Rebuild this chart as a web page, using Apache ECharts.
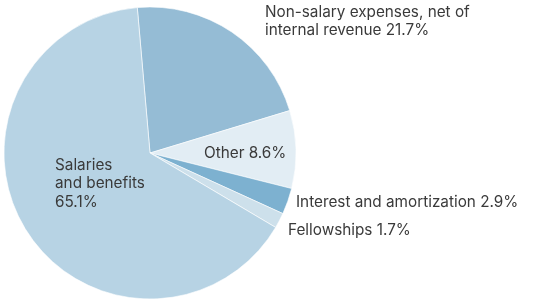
<!DOCTYPE html>
<html lang="en">
<head>
    <meta charset="UTF-8">
    <title>Expenses</title>
    <script src="https://cdn.jsdelivr.net/npm/echarts@6/dist/echarts.min.js"></script>
    <style>
        *{
            padding:0;
            margin:0;
        }
        html,body{
            height:100%;
            background:#fff;
        }
        #main{
            width:536px;
            height:301px;
        }
    </style>
</head>
<body>
<div id="main"></div>
<script>
    // slices, clockwise from just left of 12 o'clock
    var names = ['Non-salary expenses, net of\ninternal revenue', 'Other', 'Interest and amortization', 'Fellowships', 'Salaries\nand benefits'];
    var values = [21.7, 8.6, 2.9, 1.7, 65.1];
    var colors = ['#95bcd5', '#e2edf4', '#7db1d0', '#cde0eb', '#b7d3e4'];

    // where each label sits (x, y, vertical anchor)
    var labelPos = [
        [265, 3, 'top'],
        [204, 153, 'middle'],
        [296, 202, 'middle'],
        [288, 230, 'middle'],
        [55, 156, 'top']
    ];

    var myChart = echarts.init(document.getElementById('main'));

    var data = [];
    for (var i = 0; i < names.length; i++) {
        data.push({value: values[i], name: names[i], itemStyle: {color: colors[i]}});
    }

    var option = {
        animation: false,
        series: [
            {
                type: 'pie',
                center: [150, 153],
                radius: 146,
                startAngle: 95,
                clockwise: true,
                avoidLabelOverlap: false,
                itemStyle: {
                    borderColor: '#fff',
                    borderWidth: 0.6
                },
                label: {
                    show: true,
                    position: 'inside',
                    color: '#3a3a3a',
                    fontFamily: 'Inter',
                    fontSize: 15.3,
                    lineHeight: 18.5,
                    formatter: function (p) {
                        var sep = p.dataIndex === 4 ? '\n' : ' ';
                        return p.name + sep + values[p.dataIndex] + '%';
                    }
                },
                labelLine: {show: false},
                labelLayout: function (p) {
                    var pos = labelPos[p.dataIndex];
                    return {
                        x: pos[0],
                        y: pos[1],
                        align: 'left',
                        verticalAlign: pos[2]
                    };
                },
                emphasis: {disabled: true},
                data: data
            }
        ]
    };
    myChart.setOption(option);
</script>
</body>
</html>
